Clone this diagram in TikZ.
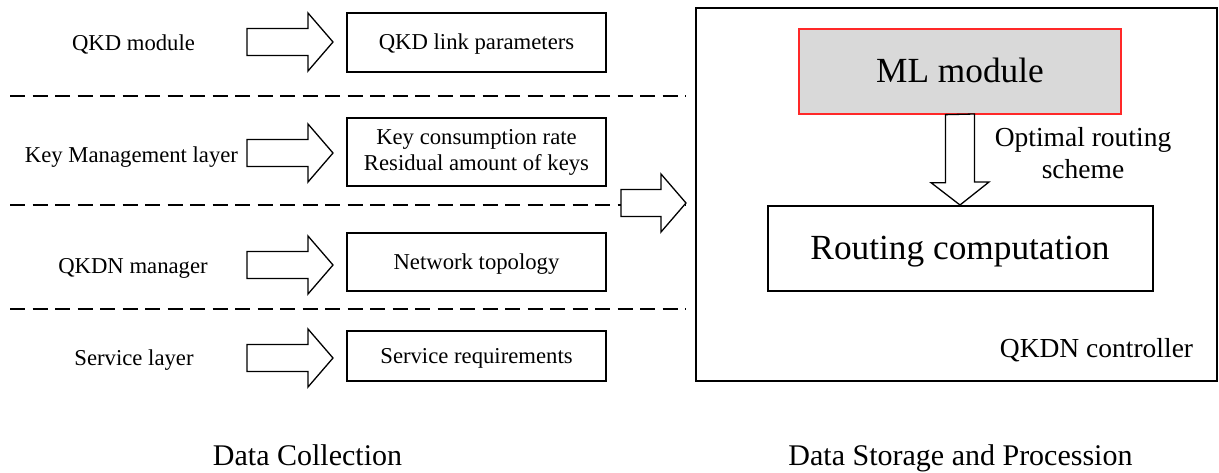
\documentclass[tikz,border=0pt]{standalone}
\usepackage{fontspec}
\setmainfont{Liberation Serif}
\definecolor{mlgray}{RGB}{217,217,217}
\definecolor{mlred}{RGB}{255,40,40}
\tikzset{
  blkarrow/.style={draw,line width=1.3pt,fill=white,line join=miter},
  pics/rarrow/.style={code={
    \draw[blkarrow] (0,-13.5) -- (#1-25,-13.5) -- (#1-25,-29) -- (#1,0) -- (#1-25,29) -- (#1-25,13.5) -- (0,13.5) -- cycle;}}
}
\begin{document}
\begin{tikzpicture}[x=1pt,y=-1pt,
  fsmall/.style={font=\fontsize{22.7}{26}\selectfont},
  lbox/.style={draw,line width=1.3pt,minimum width=259pt,fsmall,inner sep=0pt,align=center},
  oneline/.style={text height=15.4pt,text depth=1.2pt},
  bigline/.style={text height=24pt,text depth=2pt},
  ltxt/.style={fsmall,anchor=base,inner sep=0pt},
  sepline/.style={line width=1.3pt,dash pattern=on 15pt off 7.5pt},
  bigtxt/.style={font=\fontsize{35.3}{40}\selectfont},
  midtxt/.style={font=\fontsize{27.5}{31.5}\selectfont,inner sep=0pt,align=center},
  captxt/.style={font=\fontsize{30}{36}\selectfont,anchor=base,inner sep=0pt}
]
\useasboundingbox (0,0) rectangle (1219,472);

% left labels
\node[ltxt] (l1) at (133.5,50) {QKD module};
\node[ltxt] (l2) at (131.5,162) {Key Management layer};
\node[ltxt] (l3) at (133,273) {QKDN manager};
\node[ltxt] (l4) at (134,365) {Service layer};

% block arrows
\pic at (247,42) {rarrow=86};
\pic at (247,153) {rarrow=86};
\pic at (247,265) {rarrow=86};
\pic at (247,358) {rarrow=86};

% boxes
\node[lbox,oneline,minimum height=59pt] (b1) at (476.5,42.5) {QKD link parameters};
\node[lbox,minimum height=68pt] (b2) at (476.5,152) {Key consumption rate\\Residual amount of keys};
\node[lbox,oneline,minimum height=58pt] (b3) at (476.5,262) {Network topology};
\node[lbox,oneline,minimum height=50pt] (b4) at (476.5,356) {Service requirements};

% dashed separators
\coordinate (s1a) at (10,96);  \coordinate (s1b) at (686,96);
\coordinate (s2a) at (10,205); \coordinate (s2b) at (686,205);
\coordinate (s3a) at (10,309); \coordinate (s3b) at (686,309);
\draw[sepline] (s1a) -- (s1b);
\draw[sepline] (s2a) -- (s2b);
\draw[sepline] (s3a) -- (s3b);

% middle arrow
\pic at (621,203) {rarrow=65};

% controller
\node[draw,line width=2.5pt,minimum width=521pt,minimum height=373pt,inner sep=0pt] (ctrl) at (956.5,194.5) {};
\node[bigtxt,draw=mlred,line width=1.3pt,fill=mlgray,minimum width=322pt,minimum height=85pt,inner sep=0pt,bigline] (ml) at (960,71.5) {ML module};
\node[bigtxt,draw,line width=2pt,minimum width=385pt,minimum height=85pt,inner sep=0pt,bigline] (rc) at (960,248.5) {Routing computation};

\draw[blkarrow] ([xshift=-14.5pt]ml.south) -- ++(0,68) -- ++(-14.5,0) -- (rc.north) -- ++(29,-23) -- ++(-14.5,0) -- ++(0,-68) -- cycle;

\node[midtxt] (ors) at (1083,153) {Optimal routing\\scheme};
\node[midtxt,anchor=base] (qc) at (1096.5,357.5) {QKDN controller};

% captions
\node[captxt] (dc) at (307.5,465) {Data Collection};
\node[captxt] (ds) at (960.5,465) {Data Storage and Procession};
\end{tikzpicture}
\end{document}
